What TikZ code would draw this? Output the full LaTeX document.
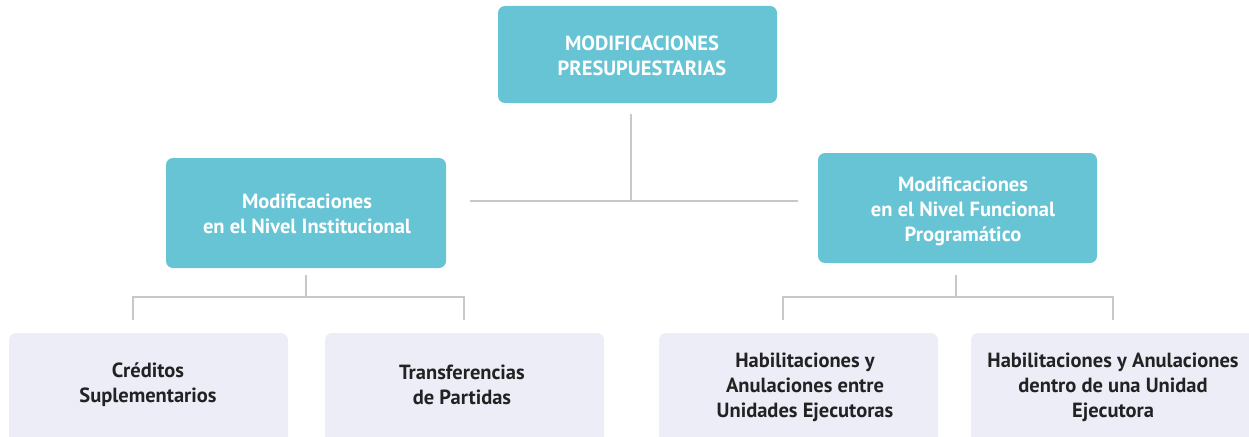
\documentclass[tikz,border=0pt]{standalone}
\usepackage{fontspec}
\setmainfont{PT Sans}
\definecolor{teal1}{HTML}{67C4D4}
\definecolor{lav}{HTML}{EDEDF8}
\definecolor{conn}{HTML}{C8C8C8}
\definecolor{txt}{HTML}{222222}
\begin{document}
\begin{tikzpicture}[x=1pt,y=-1pt,
  topbox/.style={fill=teal1,rounded corners=7pt,draw=none},
  leafbox/.style={fill=lav,rounded corners=7pt,draw=none},
  wtxt/.style={text=white,font=\bfseries\fontsize{20.5}{25}\selectfont,align=center,inner sep=0pt},
  dtxt/.style={text=txt,font=\bfseries\fontsize{20.5}{25}\selectfont,align=center,inner sep=0pt},
  connector/.style={draw=conn,line width=1.4pt}]
\useasboundingbox (0,0) rectangle (1249,436);
\begin{scope}
\clip (0,0) rectangle (1249,436);
% boxes
\path[topbox] (498,6) rectangle (777,103);
\path[topbox] (166,158) rectangle (446,268);
\path[topbox] (818,153) rectangle (1097,263);
\path[leafbox] (9,333) rectangle (288,446);
\path[leafbox] (325,333) rectangle (604,446);
\path[leafbox] (659,333) rectangle (938,446);
\path[leafbox] (971,333) rectangle (1255,446);
\end{scope}
% text nodes
\node[wtxt] (root) at (642,56) {MODIFICACIONES\\PRESUPUESTARIAS};
\node[wtxt] (inst) at (307,214) {Modificaciones\\en el Nivel Institucional};
\node[wtxt] (func) at (963,211) {Modificaciones\\en el Nivel Funcional\\Programático};
\node[dtxt] (cred) at (148,385) {Créditos\\Suplementarios};
\node[dtxt] (trans) at (462,385) {Transferencias\\de Partidas};
\node[dtxt] (hab1) at (805,387) {Habilitaciones y\\Anulaciones entre\\Unidades Ejecutoras};
\node[dtxt] (hab2) at (1113,387) {Habilitaciones y Anulaciones\\dentro de una Unidad\\Ejecutora};
% connector coordinates
\coordinate (r1) at (631,114);
\coordinate (r2) at (631,201);
\coordinate (hl) at (470,201);
\coordinate (hr) at (798,201);
\coordinate (l1) at (306,275);
\coordinate (l2) at (306,297);
\coordinate (la) at (133,297);
\coordinate (lb) at (464,297);
\coordinate (la2) at (133,320);
\coordinate (lb2) at (464,320);
\coordinate (f1) at (956,275);
\coordinate (f2) at (956,297);
\coordinate (fa) at (783,297);
\coordinate (fb) at (1113,297);
\coordinate (fa2) at (783,320);
\coordinate (fb2) at (1113,320);
\draw[connector] (r1) -- (r2);
\draw[connector] (hl) -- (hr);
\draw[connector] (l1) -- (l2);
\draw[connector] (la2) -- (la) -- (lb) -- (lb2);
\draw[connector] (f1) -- (f2);
\draw[connector] (fa2) -- (fa) -- (fb) -- (fb2);
\end{tikzpicture}
\end{document}
